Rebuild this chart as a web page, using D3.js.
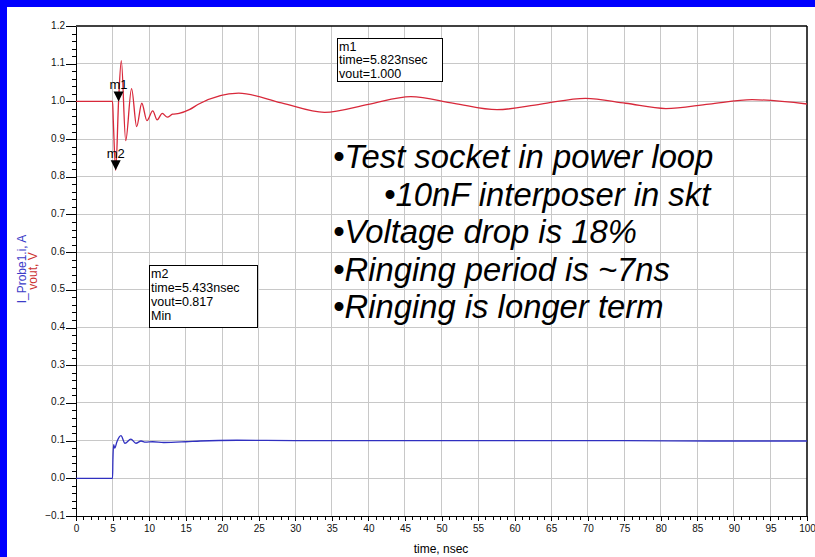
<!DOCTYPE html>
<html>
<head>
  <meta charset="utf-8">
  <title>vout / I_Probe1.i vs time</title>
  <script src="https://d3js.org/d3.v7.min.js"></script>
  <style>
    body { margin: 0; background: #fff; }
    svg { display: block; font-family: "Liberation Sans", Arial, sans-serif; }
    .axis text { font-size: 10px; fill: #111; }
    .axis path, .axis line { stroke: #000; shape-rendering: crispEdges; }
    .grid line { stroke: #c8c8c8; stroke-width: 1; shape-rendering: crispEdges; }
    .mbox text { font-size: 12.5px; fill: #000; }
    .note { font-size: 32.8px; font-style: italic; fill: #000; }
  </style>
</head>
<body>
<svg id="chart"></svg>
<script>
  // values
  const voutTime = [0, 5.0, 5.1, 5.433, 5.823, 6.2, 6.8, 7.6, 8.3, 9.0, 9.7, 10.5, 11.1, 11.8, 12.5, 13.2, 14.1, 15.5, 16.8,
                    22.25, 28.1, 34.0, 40.0, 45.8, 51.7, 57.6, 63.6, 69.7, 75.2, 80.7, 86.6, 92.5, 100];
  const voutVal  = [1.0, 1.0, 0.95, 0.817, 1.000, 1.108, 0.896, 1.034, 0.933, 0.995, 0.949, 0.975, 0.951, 0.968, 0.958, 0.966, 0.968, 0.978, 0.993,
                    1.022, 0.996, 0.971, 0.992, 1.0125, 0.995, 0.978, 0.993, 1.008, 0.995, 0.981, 0.993, 1.0045, 0.993];

  const iTime = [0, 5.0, 5.05, 5.15, 5.3, 5.6, 6.15, 6.7, 7.5, 8.2, 8.9, 9.5, 10.5, 12, 15, 17, 22, 30, 50, 75, 87, 100];
  const iVal  = [0, 0, 0.049, 0.089, 0.080, 0.097, 0.113, 0.093, 0.104, 0.093, 0.099, 0.096, 0.097, 0.095, 0.097, 0.099, 0.101, 0.100, 0.100, 0.100, 0.099, 0.099];

  const xTicks = d3.range(0, 101, 5);
  const yTicks = d3.range(-1, 13).map(d => d / 10);

  const markers = [
    { name: "m1", time: 5.823, vout: 1.000, lines: ["m1", "time=5.823nsec", "vout=1.000"] },
    { name: "m2", time: 5.433, vout: 0.817, lines: ["m2", "time=5.433nsec", "vout=0.817", "Min"] }
  ];

  const notes = [
    { text: "\u2022Test socket in power loop", indent: false },
    { text: "\u202210nF interposer in skt", indent: true },
    { text: "\u2022Voltage drop is 18%", indent: false },
    { text: "\u2022Ringing period is ~7ns", indent: false },
    { text: "\u2022Ringing is longer term", indent: false }
  ];

  const W = 815, H = 557;
  const margin = { top: 26, right: 7, bottom: 41, left: 76 };

  const svg = d3.select("#chart").attr("width", W).attr("height", H);

  // blue slide frame (top and left)
  svg.append("rect").attr("x", 0).attr("y", 0).attr("width", W).attr("height", 7).attr("fill", "#0000ff");
  svg.append("rect").attr("x", 0).attr("y", 0).attr("width", 7).attr("height", H).attr("fill", "#0000ff");

  const x = d3.scaleLinear().domain([0, 100]).range([margin.left, W - margin.right - 1]);
  const y = d3.scaleLinear().domain([-0.1, 1.2]).range([H - margin.bottom, margin.top]);

  // grid
  const grid = svg.append("g").attr("class", "grid");
  grid.selectAll(".vx").data(xTicks.filter(d => d > 0 && d < 100)).enter().append("line")
    .attr("x1", d => x(d)).attr("x2", d => x(d))
    .attr("y1", y(1.2)).attr("y2", y(-0.1));
  grid.selectAll(".hy").data(yTicks.filter(d => d > -0.1 && d < 1.2)).enter().append("line")
    .attr("x1", x(0)).attr("x2", x(100))
    .attr("y1", d => y(d)).attr("y2", d => y(d));

  // x axis: minor then major
  svg.append("g").attr("class", "axis")
    .attr("transform", `translate(0,${y(-0.1)})`)
    .call(d3.axisBottom(x).tickValues(d3.range(0, 101, 1)).tickSize(4).tickFormat(""))
    .call(g => g.select(".domain").remove());
  svg.append("g").attr("class", "axis")
    .attr("transform", `translate(0,${y(-0.1)})`)
    .call(d3.axisBottom(x).tickValues(xTicks).tickSize(5).tickSizeOuter(0).tickPadding(4).tickFormat(d3.format("d")));

  // y axis: minor then major
  svg.append("g").attr("class", "axis")
    .attr("transform", `translate(${x(0)},0)`)
    .call(d3.axisLeft(y).tickValues(d3.range(-5, 61).map(d => d / 50)).tickSize(4).tickFormat(""))
    .call(g => g.select(".domain").remove());
  svg.append("g").attr("class", "axis")
    .attr("transform", `translate(${x(0)},0)`)
    .call(d3.axisLeft(y).tickValues(yTicks).tickSize(10).tickSizeOuter(0).tickPadding(1).tickFormat(d3.format(".1f")))
    .call(g => g.selectAll(".tick text").attr("dy", "0.2em"));

  // top and right border
  svg.append("line").attr("x1", x(0)).attr("x2", x(100)).attr("y1", y(1.2)).attr("y2", y(1.2))
    .attr("stroke", "#000").attr("stroke-width", 1.5);
  svg.append("line").attr("x1", x(100)).attr("x2", x(100)).attr("y1", y(1.2)).attr("y2", y(-0.1))
    .attr("stroke", "#000").attr("stroke-width", 1.5);

  // curves
  const vout = voutTime.map((t, i) => [t, voutVal[i]]);
  const cur = iTime.map((t, i) => [t, iVal[i]]);
  const line = d3.line().x(d => x(d[0])).y(d => y(d[1])).curve(d3.curveMonotoneX);

  svg.append("path").datum(cur).attr("d", line)
    .attr("fill", "none").attr("stroke", "#3030c0").attr("stroke-width", 1.3);
  svg.append("path").datum(vout).attr("d", line)
    .attr("fill", "none").attr("stroke", "#d8283a").attr("stroke-width", 1.3);

  // marker triangles + labels
  markers.forEach(m => {
    const px = x(m.time), py = y(m.vout);
    svg.append("path")
      .attr("d", `M${px - 5},${py - 10}L${px + 5},${py - 10}L${px},${py}Z`)
      .attr("fill", "#000");
    svg.append("text").attr("x", px).attr("y", py - 12)
      .attr("text-anchor", "middle").style("font-size", "13px").text(m.name);
  });

  // marker readout boxes
  const boxes = [
    { m: markers[0], x0: 337, y0: 38, w: 105, h: 43, step: 13.5 },
    { m: markers[1], x0: 149, y0: 265, w: 108, h: 62, step: 14 }
  ];
  boxes.forEach(b => {
    const g = svg.append("g").attr("class", "mbox");
    g.append("rect").attr("x", b.x0 + 0.5).attr("y", b.y0 + 0.5).attr("width", b.w).attr("height", b.h)
      .attr("fill", "#fff").attr("stroke", "#000");
    g.selectAll("text").data(b.m.lines).enter().append("text")
      .attr("x", b.x0 + 2).attr("y", (d, i) => b.y0 + 12.5 + i * b.step)
      .text(d => d);
  });

  // slide notes
  svg.selectAll(".note").data(notes).enter().append("text")
    .attr("class", "note")
    .attr("x", d => d.indent ? 384 : 333)
    .attr("y", (d, i) => 168 + i * 37.6)
    .text(d => d.text);

  // axis titles
  svg.append("text").attr("x", 441).attr("y", 553).attr("text-anchor", "middle")
    .style("font-size", "12px").text("time, nsec");
  svg.append("text").attr("transform", "translate(26,269) rotate(-90)").attr("text-anchor", "middle")
    .style("font-size", "12px").attr("fill", "#3c3cc8").text("I_Probe1.i, A");
  svg.append("text").attr("transform", "translate(37,271) rotate(-90)").attr("text-anchor", "middle")
    .style("font-size", "12px").attr("fill", "#cc3333").text("vout, V");
</script>
</body>
</html>
